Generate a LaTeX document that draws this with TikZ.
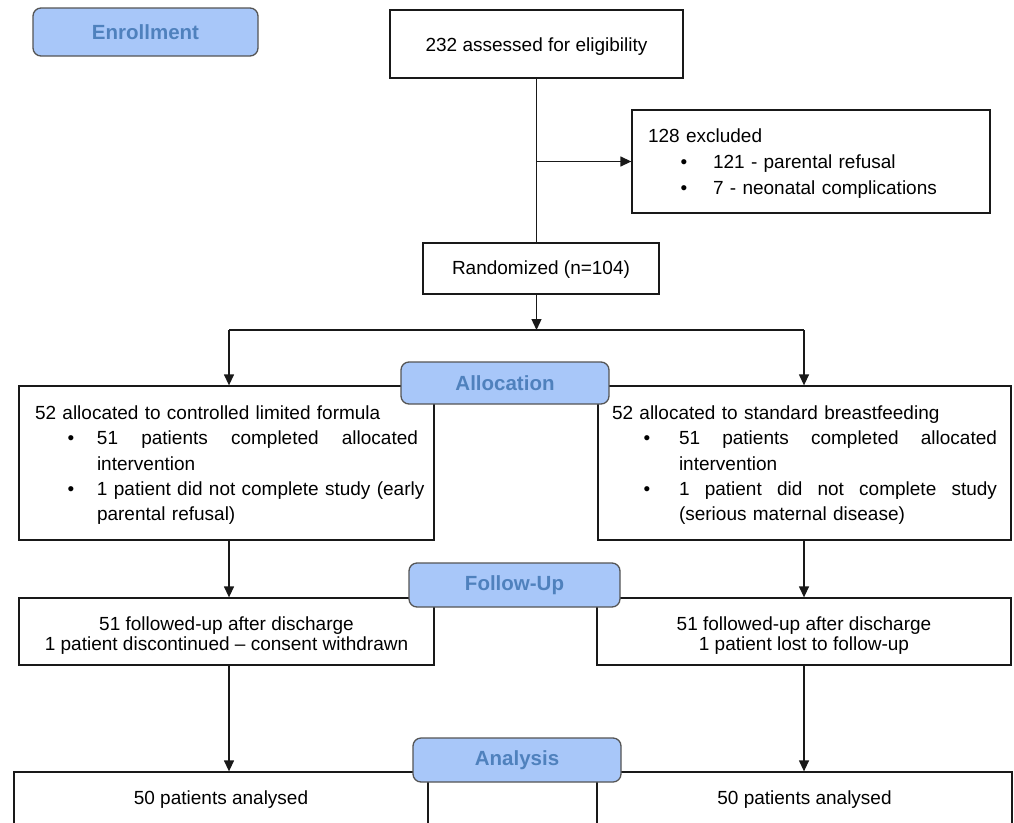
\documentclass[tikz,border=0pt]{standalone}
\usepackage{fontspec}
\setmainfont{Liberation Sans}
\usetikzlibrary{arrows.meta}
\definecolor{lblfill}{RGB}{168,199,249}
\definecolor{lbltext}{RGB}{79,129,189}
\definecolor{lineclr}{RGB}{25,25,25}
\definecolor{lblborder}{RGB}{85,85,85}
\newcommand\bl[2]{\hspace*{#1}\makebox[0pt]{\textbullet}\hspace*{#2}}
\newcommand\up[1]{\rule{0pt}{#1}}
\begin{document}
\begin{tikzpicture}[x=1pt,y=-1pt,
  box/.style={draw=lineclr, line width=1.3pt, fill=white, inner sep=0pt,
    font=\fontsize{19}{25.3}\selectfont},
  lbl/.style={draw=lblborder, line width=1.3pt, fill=lblfill, rounded corners=8pt,
    text=lbltext, font=\fontsize{20.5}{24}\selectfont\bfseries, inner sep=0pt},
  arr/.style={draw=lineclr, line width=1.3pt, -{Triangle[length=11pt,width=10pt]}},
  ln/.style={draw=lineclr, line width=1.3pt}]
\clip (0,0) rectangle (1014,822);
\fill[white] (0,0) rectangle (1014,822);

% boxes
\node[box, minimum width=293, minimum height=68] (asm) at (536.5,44)
  {\up{18pt}232 assessed for eligibility};

\node[box, minimum width=358, minimum height=103, text width=326, align=left,
  inner xsep=16pt, font=\fontsize{19}{26}\selectfont] (exc) at (811,161.5)
  {\up{18pt}128 excluded\\
   \bl{36pt}{29pt}121 - parental refusal\\
   \bl{36pt}{29pt}7 - neonatal complications};

\node[box, minimum width=236, minimum height=51] (rand) at (541,268.5)
  {\up{16pt}Randomized (n=104)};

\node[box, minimum width=415, minimum height=154, text width=383, align=left,
  inner xsep=16pt] (alL) at (226.5,463)
  {\up{18pt}52 allocated to controlled limited formula\\
   \bl{36pt}{26pt}\hbox to 321pt{51\hfill patients\hfill completed\hfill allocated}\\
   \hspace*{62pt}intervention\\
   \bl{36pt}{26pt}\mbox{1 patient did not complete study (early}\\
   \hspace*{62pt}parental refusal)};

\node[box, minimum width=413, minimum height=154, text width=385, align=left,
  inner xsep=14pt] (alR) at (804.5,463)
  {\up{18pt}52 allocated to standard breastfeeding\\
   \bl{35pt}{32pt}\hbox to 318pt{51\hfill patients\hfill completed\hfill allocated}\\
   \hspace*{67pt}intervention\\
   \bl{35pt}{32pt}\hbox to 318pt{1\hfill patient\hfill did\hfill not\hfill complete\hfill study}\\
   \hspace*{67pt}(serious maternal disease)};

\node[box, minimum width=415, minimum height=67, align=center,
  font=\fontsize{19}{20}\selectfont] (fuL) at (226.5,631.5)
  {\up{22pt}51 followed-up after discharge\\1 patient discontinued \textendash{} consent withdrawn};
\node[box, minimum width=414, minimum height=67, align=center,
  font=\fontsize{19}{20}\selectfont] (fuR) at (804,631.5)
  {\up{22pt}51 followed-up after discharge\\1 patient lost to follow-up};

\node[box, minimum width=414, minimum height=52] (anL) at (221,798) {\up{16pt}50 patients analysed};
\node[box, minimum width=415, minimum height=52] (anR) at (804.5,798) {\up{16pt}50 patients analysed};

% connectors
\draw[ln] (asm.south) -- (asm.south |- rand.north);
\coordinate (br) at (asm.south |- exc.west);
\draw[arr] (br) -- (exc.west);
\coordinate (split) at (536.5,330);
\coordinate (sL) at (229,330);
\coordinate (sR) at (804,330);
\draw[arr] (asm.south |- rand.south) -- (split);
\draw[ln] (sL) -- (sR);
\draw[arr] (sL) -- (sL |- alL.north);
\draw[arr] (sR) -- (sR |- alR.north);
\draw[arr] (sL |- alL.south) -- (sL |- fuL.north);
\draw[arr] (sR |- alR.south) -- (sR |- fuR.north);
\draw[arr] (sL |- fuL.south) -- (sL |- anL.north);
\draw[arr] (sR |- fuR.south) -- (sR |- anR.north);

% phase labels
\node[lbl, minimum width=225, minimum height=48] (enr) at (145.5,32) {Enrollment};
\node[lbl, minimum width=208, minimum height=42] (allo) at (505,383) {Allocation};
\node[lbl, minimum width=211, minimum height=44] (fu) at (514.5,585) {Follow-Up};
\node[lbl, minimum width=208, minimum height=44] (ana) at (517,760) {Analysis};
\end{tikzpicture}
\end{document}
